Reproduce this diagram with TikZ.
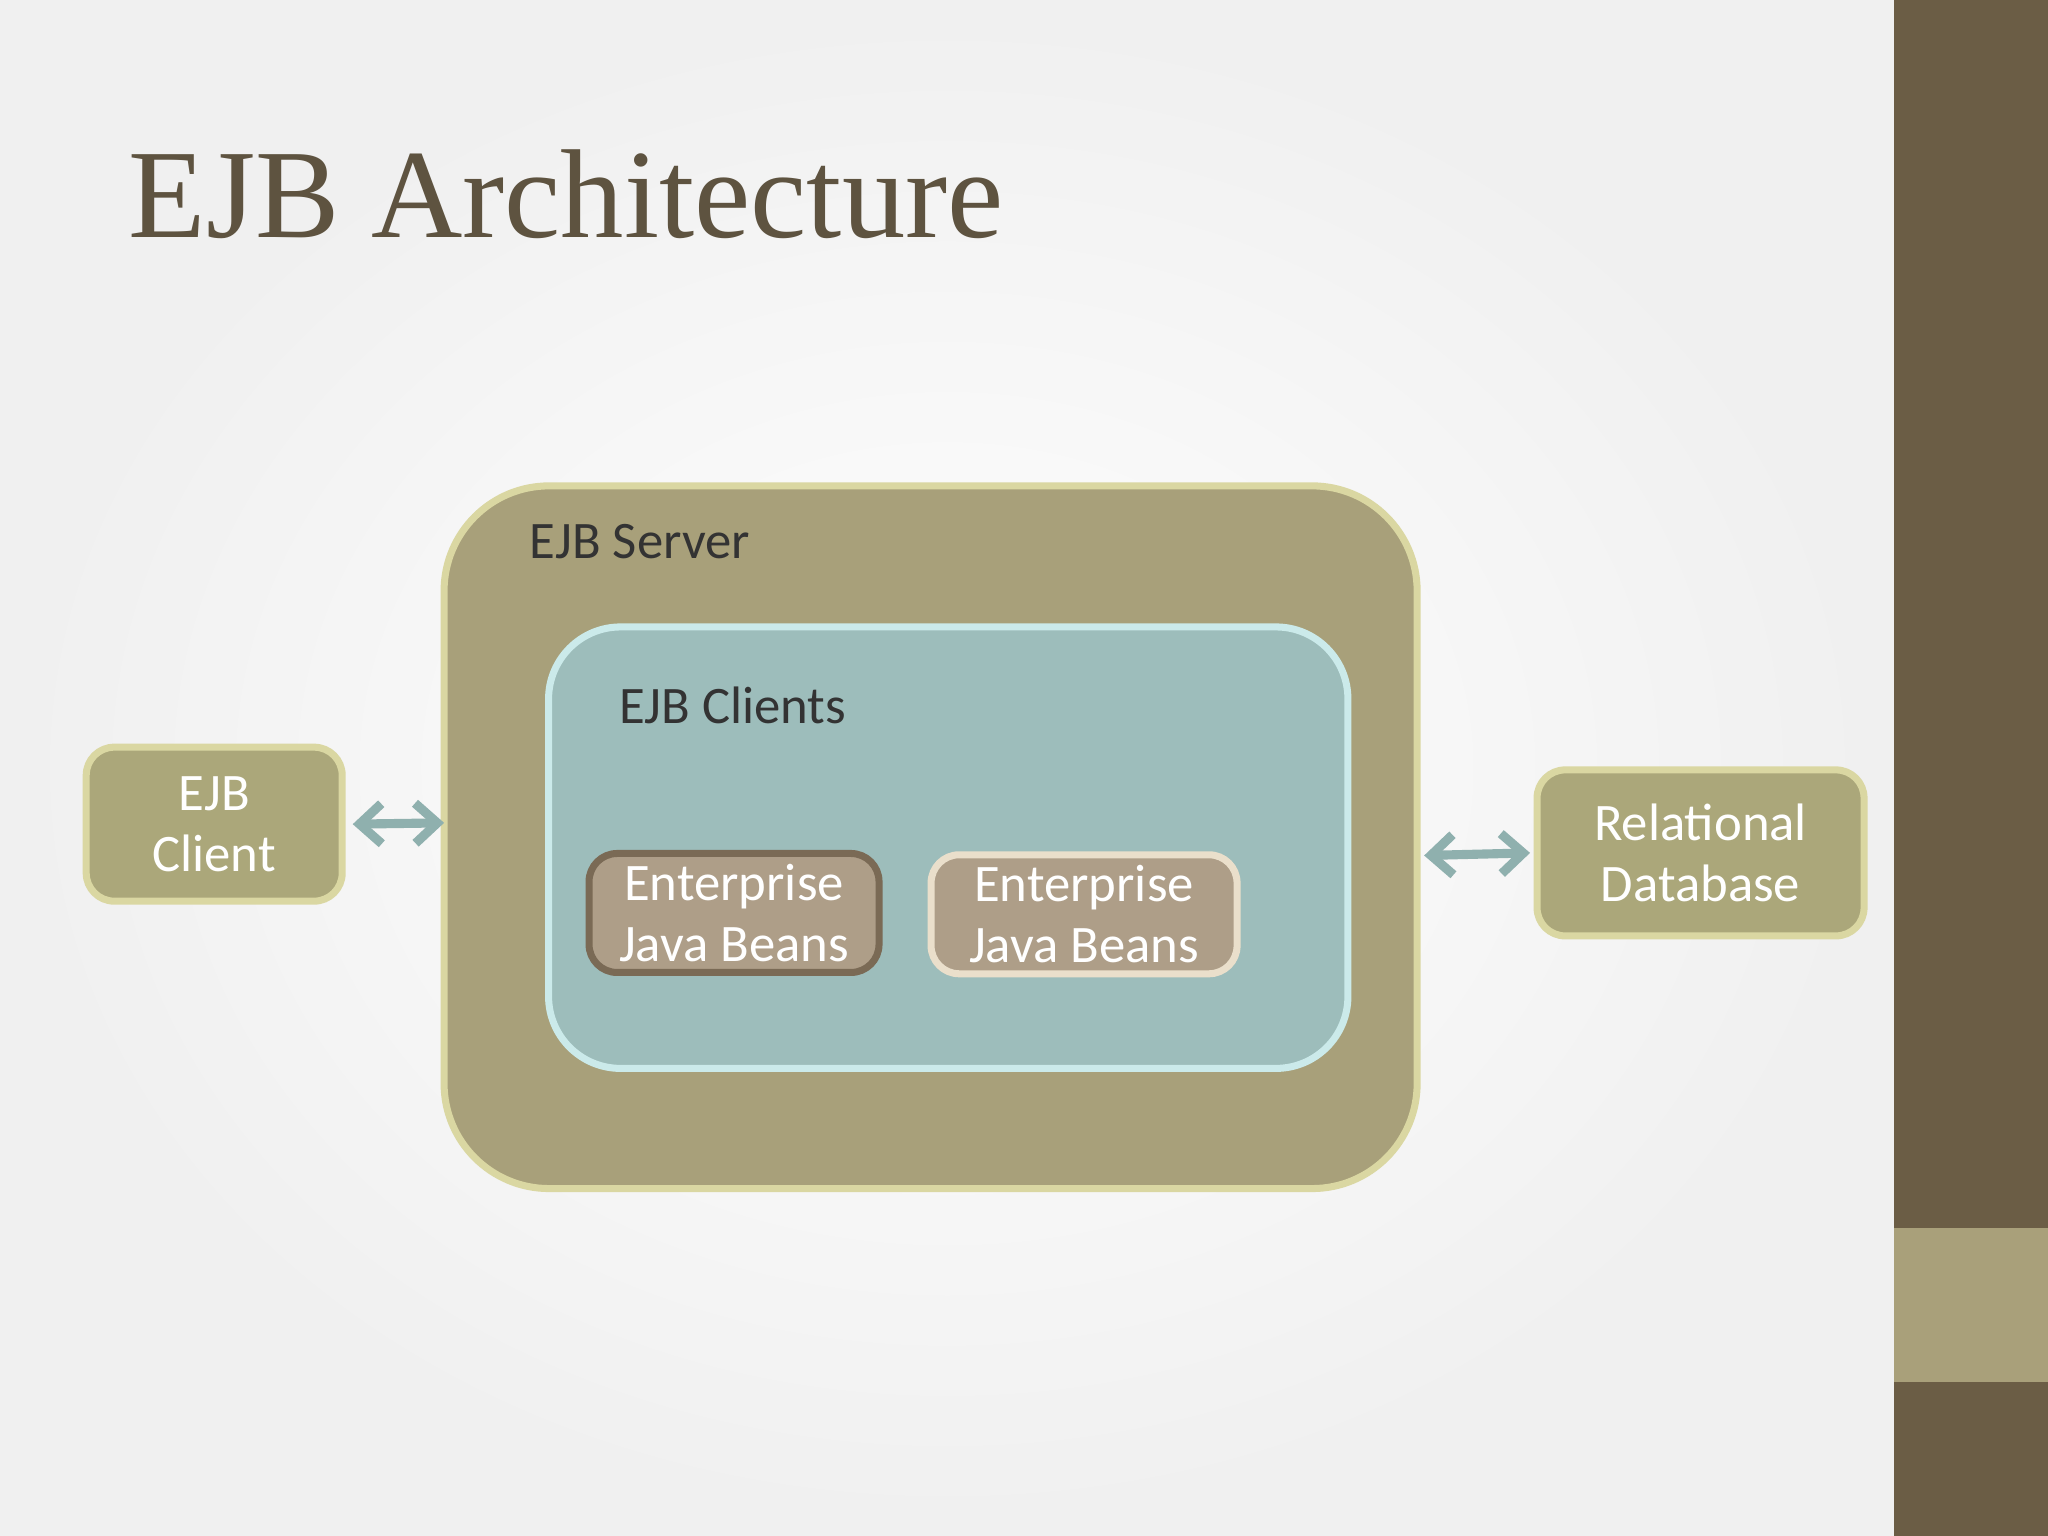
\documentclass[tikz,border=0pt]{standalone}
\usepackage{fontspec}
\setmainfont{Carlito}
\newfontfamily\titlefont{Liberation Serif}
\usetikzlibrary{positioning,arrows.meta}
\definecolor{brownbar}{HTML}{6B5D45}
\definecolor{olivebar}{HTML}{A9A07A}
\definecolor{titlecol}{HTML}{5E5340}
\definecolor{serverfill}{HTML}{A8A07A}
\definecolor{outerfill}{HTML}{ABA77A}
\definecolor{olivelight}{HTML}{DAD7A2}
\definecolor{clientsfill}{HTML}{9DBDBB}
\definecolor{cyanlight}{HTML}{CBEAEA}
\definecolor{beanfill}{HTML}{AE9E88}
\definecolor{beandark}{HTML}{7A6A55}
\definecolor{beanlight}{HTML}{EADFCB}
\definecolor{arrowcol}{HTML}{8FB0AE}
\begin{document}
\begin{tikzpicture}[x=0.013061cm, y=-0.013061cm,
    bx/.style={draw, line width=2pt, inner sep=0pt},
    lbl/.style={font=\fontsize{15}{17.5}\selectfont, text=black!80, anchor=center},
    wt/.style={font=\fontsize{15}{17.5}\selectfont, text=white, align=center},
    ar/.style={{Straight Barb[length=2.2mm,width=4mm]}-{Straight Barb[length=2.2mm,width=4mm]},
               line width=2.6pt, arrowcol},
]
% === Background ===
\useasboundingbox (0,0) rectangle (1568,1176);
\shade[inner color=white, outer color=gray!12] (0,0) rectangle (1450,1176);
\fill[brownbar] (1450,0) rectangle (1568,1176);
\fill[olivebar] (1450,940) rectangle (1568,1058);

% === Title ===
\node[anchor=base west, text=titlecol, font=\titlefont\fontsize{36}{42}\selectfont, inner sep=0pt]
    (title) at (98,182) {EJB Architecture};

% === Server and containers ===
\draw[bx, fill=serverfill, draw=olivelight, rounded corners=1.05cm] (340,372) rectangle (1085,910);
\coordinate (srvW) at (340,630);
\coordinate (srvE) at (1085,655);
\node[lbl] (srvlbl) at (490,415) {EJB Server};
\draw[bx, fill=clientsfill, draw=cyanlight, rounded corners=0.72cm] (420,480) rectangle (1032,818);
\node[lbl] (clilbl) at (561,540) {EJB Clients};

% === Beans ===
\node[bx, fill=beanfill, draw=beandark, rounded corners=8pt, wt,
      minimum width=2.9cm, minimum height=1.19cm] (bean1) at (562,699) {Enterprise\\Java Beans};
\node[bx, fill=beanfill, draw=beanlight, rounded corners=8pt, wt,
      minimum width=3.06cm, minimum height=1.19cm] (bean2) at (830,700) {Enterprise\\Java Beans};

% === Outside boxes ===
\node[bx, fill=outerfill, draw=olivelight, rounded corners=8pt, wt,
      minimum width=2.56cm, minimum height=1.54cm] (client) at (164,631) {EJB\\Client};
\node[bx, fill=outerfill, draw=olivelight, rounded corners=8pt, wt,
      minimum width=3.27cm, minimum height=1.66cm] (db) at (1302,653) {Relational\\Database};

% --- Arrows ---
\draw[ar] ([xshift=2pt]client.east) -- (srvW);
\draw[ar] ([xshift=2pt]srvE) -- ([xshift=-1pt]db.west);
\end{tikzpicture}
\end{document}
